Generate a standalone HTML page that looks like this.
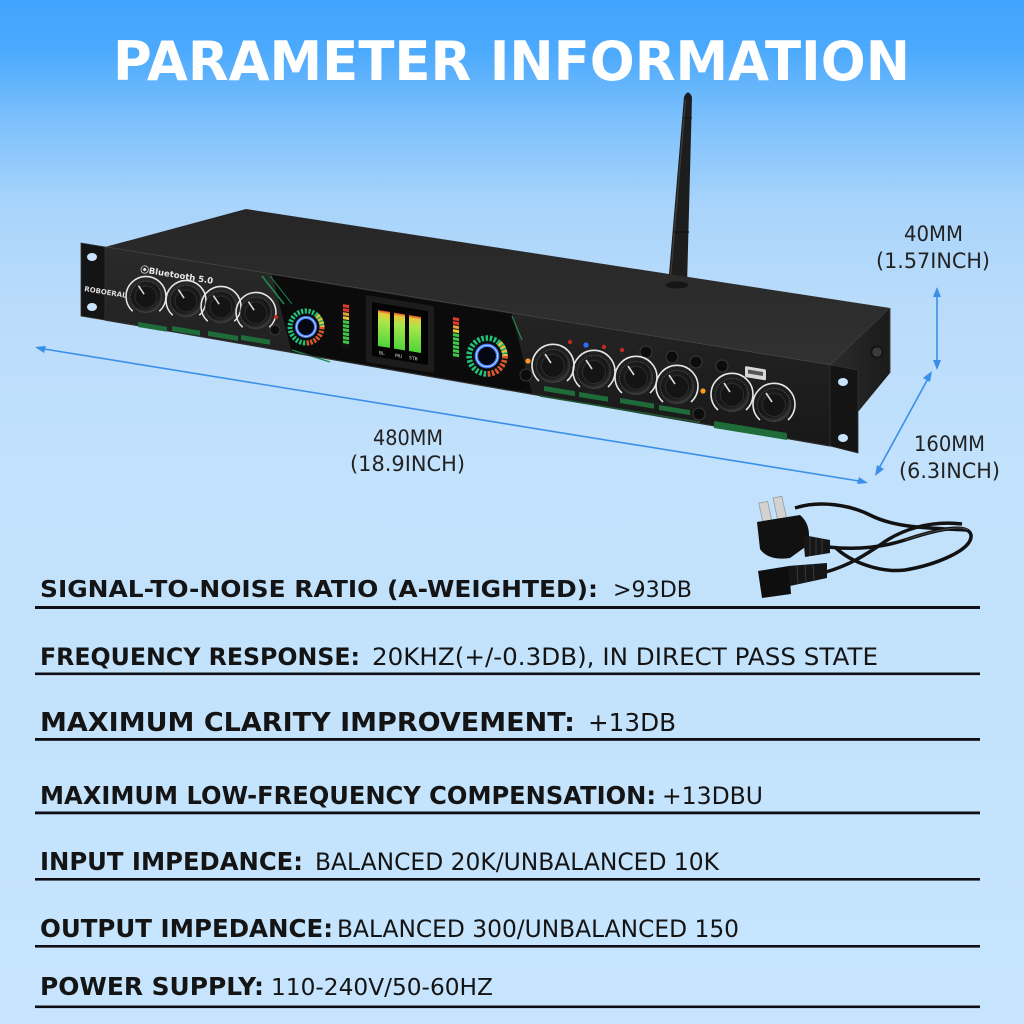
<!DOCTYPE html>
<html>
<head>
<meta charset="utf-8">
<style>
html,body{margin:0;padding:0;width:1024px;height:1024px;overflow:hidden;background:#c5e4fd;}
svg{display:block;}
text{font-family:"DejaVu Sans","Liberation Sans",sans-serif;}
</style>
</head>
<body>
<svg width="1024" height="1024" viewBox="0 0 1024 1024" xmlns="http://www.w3.org/2000/svg">
<defs>
  <linearGradient id="bg" x1="0" y1="0" x2="0" y2="1">
    <stop offset="0" stop-color="#40a3fd"/>
    <stop offset="0.05" stop-color="#4caafd"/>
    <stop offset="0.12" stop-color="#7fc1fc"/>
    <stop offset="0.2" stop-color="#a8d4fb"/>
    <stop offset="0.3" stop-color="#badcfb"/>
    <stop offset="0.45" stop-color="#c1e1fc"/>
    <stop offset="1" stop-color="#c6e4fd"/>
  </linearGradient>
  <linearGradient id="topg" x1="0" y1="0" x2="0" y2="1">
    <stop offset="0" stop-color="#262626"/>
    <stop offset="1" stop-color="#313131"/>
  </linearGradient>
  <linearGradient id="sideg" x1="0" y1="0" x2="1" y2="0">
    <stop offset="0" stop-color="#2c2c2c"/>
    <stop offset="1" stop-color="#1a1a1a"/>
  </linearGradient>
  <linearGradient id="frontg" x1="0" y1="0" x2="0" y2="1">
    <stop offset="0" stop-color="#2a2a2a"/>
    <stop offset="1" stop-color="#181818"/>
  </linearGradient>
  <radialGradient id="kg" cx="0.45" cy="0.4" r="0.6">
    <stop offset="0" stop-color="#2b2b2b"/>
    <stop offset="0.75" stop-color="#151515"/>
    <stop offset="1" stop-color="#3a3a3a"/>
  </radialGradient>
  <linearGradient id="barg" x1="0" y1="0" x2="0" y2="1">
    <stop offset="0" stop-color="#e04a2a"/>
    <stop offset="0.08" stop-color="#e8c83a"/>
    <stop offset="0.3" stop-color="#a8e84a"/>
    <stop offset="1" stop-color="#4fd43a"/>
  </linearGradient>
  <g id="knob">
    <path d="M -14 15 A 21 21 0 1 1 14 15" fill="none" stroke="#e6e6e6" stroke-width="1.6"/>
    <circle r="16.5" fill="url(#kg)"/>
    <circle r="16.5" fill="none" stroke="#4a4a4a" stroke-width="1.2" stroke-dasharray="1.2 1.2"/>
    <circle r="11.5" fill="#141414" stroke="#2e2e2e" stroke-width="1"/>
    <line x1="-2" y1="-3" x2="-8" y2="-12" stroke="#dcdcdc" stroke-width="1.6"/>
  </g>
  <g id="vu">
    <circle r="20" fill="#0c0c0c"/>
    <circle r="16" fill="none" stroke="#22c27a" stroke-width="5" stroke-dasharray="2.2 1.5"/>
    <path d="M 16 0 A 16 16 0 0 1 0 16" fill="none" stroke="#e8502a" stroke-width="5" stroke-dasharray="2.2 1.5"/>
    <path d="M 11 -11.5 A 16 16 0 0 1 16 0" fill="none" stroke="#e8c23a" stroke-width="5" stroke-dasharray="2.2 1.5"/>
    <circle r="9.5" fill="#050812" stroke="#3f7dff" stroke-width="3"/>
    <circle r="9.5" fill="none" stroke="#c6d8ff" stroke-width="0.8"/>
  </g>
  <g id="btn">
    <circle r="6" fill="#0c0c0c" stroke="#3a3a3a" stroke-width="1"/>
  </g>
</defs>

<rect x="0" y="0" width="1024" height="1024" fill="url(#bg)"/>

<!-- Title -->
<text x="113" y="80" font-size="54" font-weight="bold" fill="#ffffff" textLength="797" lengthAdjust="spacingAndGlyphs">PARAMETER INFORMATION</text>

<!-- Antenna -->
<polygon points="684,97 692,97 687,286 668,286" fill="#1d1d1d"/>
<path d="M684 97 Q688 88 692 97 Z" fill="#1d1d1d"/>
<line x1="685.5" y1="100" x2="670" y2="284" stroke="#3d3d3d" stroke-width="1.2"/>
<line x1="683" y1="118" x2="692" y2="118" stroke="#111" stroke-width="1"/>
<line x1="674" y1="232" x2="689" y2="232" stroke="#111" stroke-width="1.2"/>

<!-- Device: top surface -->
<polygon points="105,247 246,209 890,308 830,365" fill="url(#topg)"/>
<line x1="105" y1="247" x2="830" y2="365" stroke="#555" stroke-width="1"/>
<ellipse cx="677" cy="285" rx="11" ry="3.5" fill="#151515"/>

<!-- side face -->
<polygon points="830,365 890,308 890,373 830,446" fill="url(#sideg)"/>
<line x1="890" y1="308" x2="890" y2="373" stroke="#444" stroke-width="1"/>
<circle cx="877" cy="352" r="5.5" fill="#3a3a3a" stroke="#111" stroke-width="1.5"/>

<!-- front body -->
<polygon points="105,247 830,365 830,446 105,320" fill="url(#frontg)"/>
<polygon points="272,275 512,314 532,394 292,353" fill="#0b0b0b"/>
<line x1="262" y1="276" x2="284" y2="304" stroke="#1f8a4e" stroke-width="1.6"/>
<line x1="270" y1="276" x2="292" y2="304" stroke="#1f8a4e" stroke-width="1"/>
<line x1="292" y1="350" x2="330" y2="362" stroke="#1f8a4e" stroke-width="1.4"/>
<line x1="512" y1="316" x2="522" y2="340" stroke="#1f8a4e" stroke-width="1.2"/>
<line x1="105" y1="320" x2="830" y2="446" stroke="#2e2e2e" stroke-width="1.2"/>

<!-- ears -->
<polygon points="81,243 105,247 105,320 81,316" fill="#141414" stroke="#333" stroke-width="0.8"/>
<ellipse cx="92" cy="257" rx="5" ry="4" fill="#c8e3fb"/>
<ellipse cx="92" cy="307" rx="5" ry="4" fill="#c8e3fb"/>
<polygon points="830,365 858,370 858,453 830,446" fill="#141414" stroke="#333" stroke-width="0.8"/>
<ellipse cx="843" cy="382" rx="5" ry="4" fill="#c8e3fb"/>
<ellipse cx="843" cy="438" rx="5" ry="4" fill="#c8e3fb"/>

<!-- small texts on panel -->
<text x="140" y="272" font-size="8.5" font-weight="bold" fill="#e8e8e8" transform="rotate(9.3 140 272)">⦿Bluetooth 5.0</text>
<text x="84" y="291" font-size="7" font-weight="bold" fill="#dddddd" transform="rotate(9.3 84 291)">ROBOERAL</text>

<!-- left knobs -->
<use href="#knob" transform="translate(146,297) scale(0.95)"/>
<use href="#knob" transform="translate(186,301) scale(0.95)"/>
<use href="#knob" transform="translate(221,307) scale(0.95)"/>
<use href="#knob" transform="translate(256,313) scale(0.95)"/>
<!-- left green labels -->
<g fill="#1f6b3a">
  <g transform="translate(138,322) skewY(9.3)"><rect x="0" y="0" width="29" height="5"/></g>
  <g transform="translate(172,326) skewY(9.3)"><rect x="0" y="0" width="28" height="5"/></g>
  <g transform="translate(208,331) skewY(9.3)"><rect x="0" y="0" width="30" height="5"/></g>
  <g transform="translate(241,335) skewY(9.3)"><rect x="0" y="0" width="29" height="5"/></g>
</g>
<circle cx="275" cy="330" r="5" fill="#0c0c0c" stroke="#3a3a3a"/>
<circle cx="276" cy="317" r="2" fill="#c03020"/>

<!-- left VU ring -->
<use href="#vu" transform="translate(306,327)"/>
<!-- CH1 meter -->
<g transform="translate(342,303) skewY(9.3)">
  <rect x="0" y="0" width="8" height="44" fill="#111"/>
  <rect x="1" y="1" width="6" height="3" fill="#e03a2a"/>
  <rect x="1" y="5" width="6" height="3" fill="#e03a2a"/>
  <rect x="1" y="9" width="6" height="3" fill="#e8a030"/>
  <rect x="1" y="13" width="6" height="3" fill="#e8c83a"/>
  <rect x="1" y="17" width="6" height="3" fill="#3ec84a"/>
  <rect x="1" y="21" width="6" height="3" fill="#3ec84a"/>
  <rect x="1" y="25" width="6" height="3" fill="#3ec84a"/>
  <rect x="1" y="29" width="6" height="3" fill="#3ec84a"/>
  <rect x="1" y="33" width="6" height="3" fill="#3ec84a"/>
  <rect x="1" y="37" width="6" height="3" fill="#3ec84a"/>
</g>

<!-- display screen -->
<g transform="translate(366,298) skewY(9.3)">
  <rect x="0" y="-3" width="68" height="67" rx="2" fill="#1c1c1c"/>
  <rect x="6" y="3" width="56" height="54" fill="#040404"/>
  <rect x="12" y="10" width="12" height="36" fill="url(#barg)"/>
  <rect x="28" y="10" width="11" height="36" fill="url(#barg)"/>
  <rect x="43" y="10" width="12" height="36" fill="url(#barg)"/>
  <text x="13" y="54" font-size="4.5" fill="#ddd">BL</text>
  <text x="29" y="54" font-size="4.5" fill="#ddd">MU</text>
  <text x="43" y="54" font-size="4.5" fill="#ddd">STB</text>
</g>

<!-- CH2 meter -->
<g transform="translate(452,316) skewY(9.3)">
  <rect x="0" y="0" width="8" height="44" fill="#111"/>
  <rect x="1" y="1" width="6" height="3" fill="#e03a2a"/>
  <rect x="1" y="5" width="6" height="3" fill="#e03a2a"/>
  <rect x="1" y="9" width="6" height="3" fill="#e8a030"/>
  <rect x="1" y="13" width="6" height="3" fill="#e8c83a"/>
  <rect x="1" y="17" width="6" height="3" fill="#3ec84a"/>
  <rect x="1" y="21" width="6" height="3" fill="#3ec84a"/>
  <rect x="1" y="25" width="6" height="3" fill="#3ec84a"/>
  <rect x="1" y="29" width="6" height="3" fill="#3ec84a"/>
  <rect x="1" y="33" width="6" height="3" fill="#3ec84a"/>
  <rect x="1" y="37" width="6" height="3" fill="#3ec84a"/>
</g>

<!-- right VU ring -->
<use href="#vu" transform="translate(487,356) scale(1.12)"/>

<!-- right section buttons & LEDs -->
<use href="#btn" transform="translate(526,375)"/>
<circle cx="528" cy="361" r="2.6" fill="#ff9a20"/>
<circle cx="570" cy="342" r="2.2" fill="#c02a20"/>
<circle cx="586" cy="345" r="2.6" fill="#2a6cff"/>
<circle cx="604" cy="347" r="2.2" fill="#c02a20"/>
<circle cx="622" cy="350" r="2.2" fill="#c02a20"/>
<use href="#btn" transform="translate(646,352)"/>
<use href="#btn" transform="translate(672,357)"/>
<use href="#btn" transform="translate(696,362)"/>
<use href="#btn" transform="translate(722,366)"/>
<use href="#btn" transform="translate(699,414)"/>
<circle cx="703" cy="391" r="2.6" fill="#ff9a20"/>
<!-- USB -->
<g transform="translate(745,366) skewY(9.3)">
  <rect x="0" y="0" width="21" height="11" rx="1.5" fill="#d8d8d8"/>
  <rect x="3" y="3" width="15" height="4" fill="#555"/>
</g>

<!-- right knobs -->
<use href="#knob" transform="translate(553,366)"/>
<use href="#knob" transform="translate(594,372)"/>
<use href="#knob" transform="translate(636,378)"/>
<use href="#knob" transform="translate(677,387)"/>
<use href="#knob" transform="translate(732,395)"/>
<use href="#knob" transform="translate(774,405)"/>

<!-- right green labels -->
<g fill="#1f6b3a">
  <g transform="translate(544,386) skewY(9.3)"><rect x="0" y="0" width="31" height="5"/></g>
  <g transform="translate(579,392) skewY(9.3)"><rect x="0" y="0" width="29" height="5"/></g>
  <g transform="translate(620,398) skewY(9.3)"><rect x="0" y="0" width="34" height="5"/></g>
  <g transform="translate(659,405) skewY(9.3)"><rect x="0" y="0" width="31" height="5"/></g>
  <g transform="translate(714,421) skewY(9.3)"><rect x="0" y="0" width="73" height="7"/></g>
</g>
<g transform="translate(540,396) skewY(9.3)">
  <line x1="0" y1="0" x2="160" y2="0" stroke="#1d5a32" stroke-width="1.5"/>
</g>

<!-- Power cord -->
<g>
  <path d="M795 508 C 820 500, 850 505, 870 515 C 895 528, 930 528, 966 530" fill="none" stroke="#111" stroke-width="3.5"/>
  <path d="M828 547 C 855 550, 880 548, 905 540 C 935 530, 968 522, 971 535 C 973 550, 935 565, 905 570 C 880 573, 850 562, 835 547" fill="none" stroke="#111" stroke-width="3.5"/>
  <path d="M826 572 C 850 565, 865 555, 880 545 C 900 530, 930 520, 962 524" fill="none" stroke="#131313" stroke-width="3.5"/>
  <path d="M905 540 C 935 530, 960 525, 968 530" fill="none" stroke="#4a4a4a" stroke-width="1"/>
  <g transform="rotate(-12 775 512)">
    <rect x="761" y="500" width="9" height="22" fill="#d2d2d2" stroke="#9a9a9a" stroke-width="0.8"/>
    <rect x="776" y="498" width="9" height="22" fill="#d2d2d2" stroke="#9a9a9a" stroke-width="0.8"/>
  </g>
  <path d="M757 522 L 800 515 Q 812 525 808 545 L 790 558 Q 768 561 760 549 Z" fill="#111"/>
  <polygon points="803,535 830,540 830,553 805,557" fill="#161616"/>
  <line x1="810" y1="537" x2="810" y2="556" stroke="#3a3a3a" stroke-width="1"/>
  <line x1="816" y1="538" x2="816" y2="555" stroke="#3a3a3a" stroke-width="1"/>
  <line x1="822" y1="539" x2="822" y2="554" stroke="#3a3a3a" stroke-width="1"/>
  <polygon points="758,571 789,566 791,594 762,598" fill="#0e0e0e"/>
  <polygon points="788,566 827,563 827,578 790,586" fill="#161616"/>
  <line x1="797" y1="566" x2="798" y2="584" stroke="#3a3a3a" stroke-width="1"/>
  <line x1="805" y1="565" x2="806" y2="582" stroke="#3a3a3a" stroke-width="1"/>
  <line x1="813" y1="564" x2="814" y2="581" stroke="#3a3a3a" stroke-width="1"/>
</g>

<!-- Dimension arrows -->
<g stroke="#3b8fe8" stroke-width="1.6" fill="#3b8fe8">
  <line x1="38" y1="348" x2="865" y2="482"/>
  <polygon points="35,347 46,346 44,353" stroke="none"/>
  <polygon points="868,483 857,484 859,477" stroke="none"/>
  <line x1="937" y1="292" x2="937" y2="365"/>
  <polygon points="937,287 933,297 941,297" stroke="none"/>
  <polygon points="937,370 933,360 941,360" stroke="none"/>
  <line x1="930" y1="375" x2="877" y2="472"/>
  <polygon points="932,371 930,382 923,378" stroke="none"/>
  <polygon points="875,476 877,465 884,469" stroke="none"/>
</g>

<!-- Dimension labels -->
<g fill="#222222" font-size="21">
  <text x="904" y="241" textLength="59" lengthAdjust="spacingAndGlyphs">40MM</text>
  <text x="876" y="268" textLength="114" lengthAdjust="spacingAndGlyphs">(1.57INCH)</text>
  <text x="373" y="445" textLength="70" lengthAdjust="spacingAndGlyphs">480MM</text>
  <text x="350" y="471" textLength="115" lengthAdjust="spacingAndGlyphs">(18.9INCH)</text>
  <text x="914" y="451" textLength="71" lengthAdjust="spacingAndGlyphs">160MM</text>
  <text x="899" y="478" textLength="101" lengthAdjust="spacingAndGlyphs">(6.3INCH)</text>
</g>

<!-- Spec rows -->
<g fill="#141414">
  <text x="40" y="597" font-size="23.5" font-weight="bold" textLength="558" lengthAdjust="spacingAndGlyphs">SIGNAL-TO-NOISE RATIO (A-WEIGHTED):</text>
  <text x="613" y="597" font-size="22.5" textLength="79" lengthAdjust="spacingAndGlyphs">&gt;93DB</text>

  <text x="40" y="665" font-size="24" font-weight="bold" textLength="320" lengthAdjust="spacingAndGlyphs">FREQUENCY RESPONSE:</text>
  <text x="372" y="665" font-size="24.3" textLength="506" lengthAdjust="spacingAndGlyphs">20KHZ(+/-0.3DB), IN DIRECT PASS STATE</text>

  <text x="40" y="731" font-size="25.5" font-weight="bold" textLength="535" lengthAdjust="spacingAndGlyphs">MAXIMUM CLARITY IMPROVEMENT:</text>
  <text x="588" y="731" font-size="25" textLength="88" lengthAdjust="spacingAndGlyphs">+13DB</text>

  <text x="40" y="804" font-size="24.5" font-weight="bold" textLength="616" lengthAdjust="spacingAndGlyphs">MAXIMUM LOW-FREQUENCY COMPENSATION:</text>
  <text x="662" y="804" font-size="24" textLength="101" lengthAdjust="spacingAndGlyphs">+13DBU</text>

  <text x="40" y="870" font-size="24.5" font-weight="bold" textLength="263" lengthAdjust="spacingAndGlyphs">INPUT IMPEDANCE:</text>
  <text x="315" y="870" font-size="23.6" textLength="404" lengthAdjust="spacingAndGlyphs">BALANCED 20K/UNBALANCED 10K</text>

  <text x="40" y="937" font-size="24.5" font-weight="bold" textLength="293" lengthAdjust="spacingAndGlyphs">OUTPUT IMPEDANCE:</text>
  <text x="337" y="937" font-size="23.6" textLength="402" lengthAdjust="spacingAndGlyphs">BALANCED 300/UNBALANCED 150</text>

  <text x="40" y="995" font-size="24.5" font-weight="bold" textLength="224" lengthAdjust="spacingAndGlyphs">POWER SUPPLY:</text>
  <text x="271" y="995" font-size="23.4" textLength="222" lengthAdjust="spacingAndGlyphs">110-240V/50-60HZ</text>
</g>

<!-- Row underlines -->
<g fill="#0e0e14">
  <rect x="35" y="606" width="945" height="3"/>
  <rect x="35" y="672.5" width="945" height="2.6"/>
  <rect x="35" y="738" width="945" height="2.8"/>
  <rect x="35" y="811.5" width="945" height="2.8"/>
  <rect x="35" y="878" width="945" height="2.6"/>
  <rect x="35" y="945" width="945" height="2.6"/>
  <rect x="35" y="1005.5" width="945" height="2.6"/>
</g>
</svg>
</body>
</html>
